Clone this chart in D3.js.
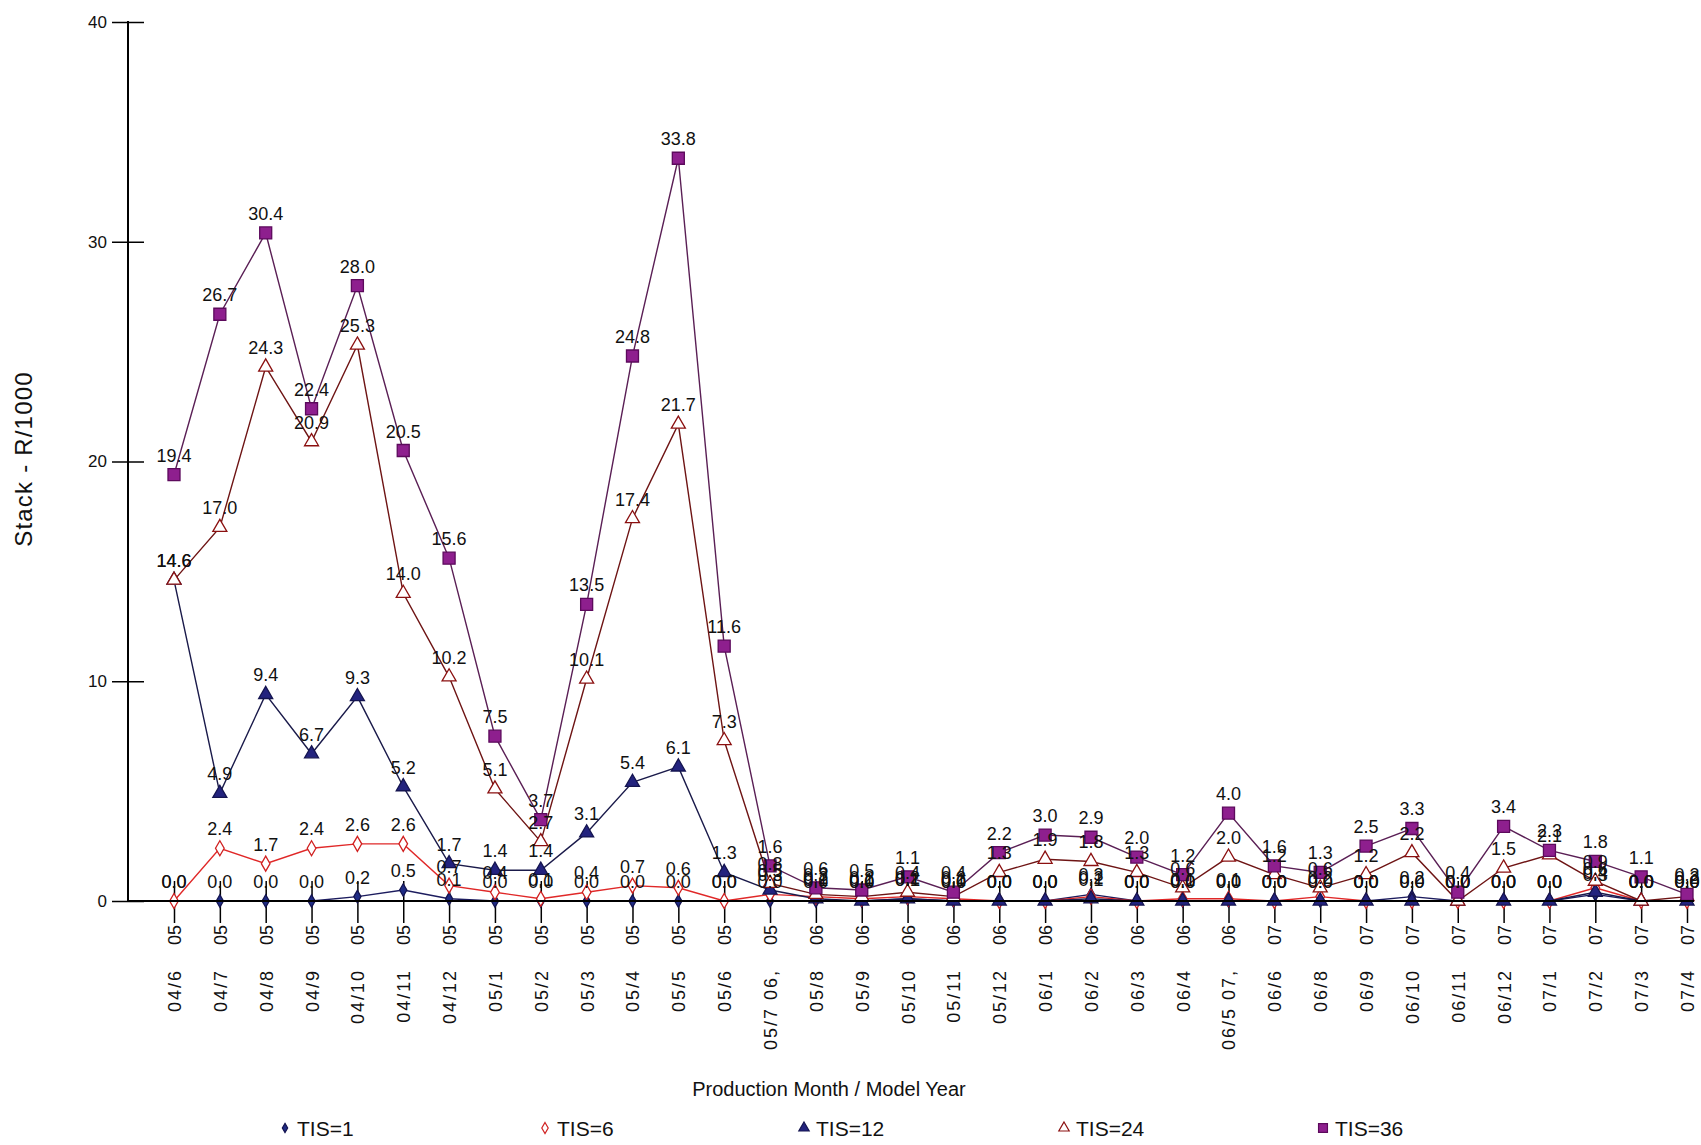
<!DOCTYPE html>
<html>
<head>
<meta charset="utf-8">
<script src="https://cdn.jsdelivr.net/npm/d3@7"></script>
<style>
  html, body { margin: 0; padding: 0; background: #fff; }
  svg { display: block; }
  text { font-family: "Liberation Sans", Arial, sans-serif; fill: #111; }
</style>
</head>
<body>
<svg id="chart" width="1701" height="1145"></svg>
<script>
// ---------------- data ----------------
const categories = ["04/6 05","04/7 05","04/8 05","04/9 05","04/10 05","04/11 05","04/12 05",
  "05/1 05","05/2 05","05/3 05","05/4 05","05/5 05","05/6 05","05/7 06, 05","05/8 06","05/9 06",
  "05/10 06","05/11 06","05/12 06","06/1 06","06/2 06","06/3 06","06/4 06","06/5 07, 06",
  "06/6 07","06/8 07","06/9 07","06/10 07","06/11 07","06/12 07","07/1 07","07/2 07","07/3 07","07/4 07"];

const tis1  = [0.0,0.0,0.0,0.0,0.2,0.5,0.1,0.0,0.0,0.0,0.0,0.0,0.0,0.0,0.0,0.0,0.1,0.0,0.0,0.0,0.3,0.0,0.0,0.0,0.0,0.0,0.0,0.2,0.0,0.0,0.0,0.3,0.0,0.0];
const tis6  = [0.0,2.4,1.7,2.4,2.6,2.6,0.7,0.4,0.1,0.4,0.7,0.6,0.0,0.3,0.2,0.1,0.2,0.1,0.0,0.0,0.2,0.0,0.1,0.1,0.0,0.2,0.0,0.0,0.0,0.0,0.0,0.6,0.0,0.0];
const tis12 = [14.6,4.9,9.4,6.7,9.3,5.2,1.7,1.4,1.4,3.1,5.4,6.1,1.3,0.5,0.1,0.0,0.1,0.0,0.0,0.0,0.1,0.0,0.0,0.0,0.0,0.0,0.0,0.0,0.0,0.0,0.0,0.4,0.0,0.0];
const tis24 = [14.6,17.0,24.3,20.9,25.3,14.0,10.2,5.1,2.7,10.1,17.4,21.7,7.3,0.8,0.3,0.2,0.4,0.2,1.3,1.9,1.8,1.3,0.6,2.0,1.2,0.6,1.2,2.2,0.0,1.5,2.1,0.9,0.0,0.2];
const tis36 = [19.4,26.7,30.4,22.4,28.0,20.5,15.6,7.5,3.7,13.5,24.8,33.8,11.6,1.6,0.6,0.5,1.1,0.4,2.2,3.0,2.9,2.0,1.2,4.0,1.6,1.3,2.5,3.3,0.4,3.4,2.3,1.8,1.1,0.3];

const seriesNames = ["TIS=1","TIS=6","TIS=12","TIS=24","TIS=36"];
const yTicks = [0, 10, 20, 30, 40];
const xTitle = "Production Month / Model Year";
const yTitle = "Stack - R/1000";

// ---------------- styles ----------------
const styles = {
  "TIS=1":  {values: tis1,  line: "#1c1c5e", fill: "#1f2c85", stroke: "#141450", sym: d3.symbolDiamond,  size: 45},
  "TIS=6":  {values: tis6,  line: "#e02828", fill: "#ffffff", stroke: "#d02020", sym: d3.symbolDiamond,  size: 65},
  "TIS=12": {values: tis12, line: "#1a1a4a", fill: "#23237e", stroke: "#141450", sym: d3.symbolTriangle, size: 85},
  "TIS=24": {values: tis24, line: "#6e1414", fill: "#ffffff", stroke: "#8b1010", sym: d3.symbolTriangle, size: 85},
  "TIS=36": {values: tis36, line: "#5a1f55", fill: "#8e1f8e", stroke: "#5c0a5c", sym: d3.symbolSquare,   size: 144}
};

const svg = d3.select("#chart");
svg.append("rect").attr("width", 1701).attr("height", 1145).attr("fill", "#fff");

const x = d3.scalePoint().domain(categories).range([174, 1687]);
const y = d3.scaleLinear().domain([0, 40]).range([901, 22]);

// ---------------- axes ----------------
const yAxis = svg.append("g").attr("transform", "translate(128,0)")
  .call(d3.axisLeft(y).tickValues(yTicks).tickSize(16).tickPadding(5));
yAxis.select(".domain").remove();
yAxis.selectAll(".tick line").attr("x1", 16).attr("x2", -16).attr("stroke", "#000").attr("stroke-width", 1.5);
yAxis.selectAll(".tick text").attr("x", -21).style("font-size", "17px").style("font-family", "Liberation Sans, Arial, sans-serif").attr("fill", "#111");

const xAxis = svg.append("g").attr("transform", "translate(0,901)")
  .call(d3.axisBottom(x).tickSize(22).tickFormat(""));
xAxis.select(".domain").remove();
xAxis.selectAll(".tick line").attr("y1", -20).attr("y2", 22).attr("stroke", "#000").attr("stroke-width", 1.5);
xAxis.selectAll(".tick text").remove();
xAxis.selectAll(".tick").each(function(d) {
  const g = d3.select(this);
  const i = d.lastIndexOf(" ");
  const first = d.slice(0, i), second = d.slice(i + 1);
  g.append("text").attr("transform", "translate(0,24) rotate(-90)")
    .attr("text-anchor", "end").attr("dy", "0.36em")
    .style("font-size", "18px").text(second);
  g.append("text").attr("transform", "translate(0,68) rotate(-90)")
    .attr("text-anchor", "end").attr("dy", "0.36em")
    .style("font-size", "18px").attr("letter-spacing", "2").text(first);
});

// axis lines
svg.append("line").attr("x1", 128).attr("x2", 128).attr("y1", 21).attr("y2", 902)
  .attr("stroke", "#000").attr("stroke-width", 2);

// ---------------- series ----------------
const lineGen = d3.line().x((d, i) => x(categories[i])).y(d => y(d));
const plot = svg.append("g");

seriesNames.forEach(name => {
  const s = styles[name];
  plot.append("path").datum(s.values)
    .attr("d", lineGen).attr("fill", "none")
    .attr("stroke", s.line).attr("stroke-width", 1.4);
});

svg.append("line").attr("x1", 127).attr("x2", 1694).attr("y1", 901).attr("y2", 901)
  .attr("stroke", "#000").attr("stroke-width", 2.2);

seriesNames.forEach(name => {
  const s = styles[name];
  plot.append("g").selectAll("path").data(s.values).join("path")
    .attr("transform", (d, i) => `translate(${x(categories[i])},${y(d)})`)
    .attr("d", d3.symbol().type(s.sym).size(s.size))
    .attr("fill", s.fill).attr("stroke", s.stroke).attr("stroke-width", 1.3);
});

// value labels
const labels = svg.append("g");
seriesNames.forEach(name => {
  const s = styles[name];
  labels.append("g").selectAll("text").data(s.values).join("text")
    .attr("x", (d, i) => x(categories[i]))
    .attr("y", d => y(d) - 13)
    .attr("text-anchor", "middle")
    .style("font-size", "18px")
    .text(d => d.toFixed(1));
});

// ---------------- titles ----------------
svg.append("text").attr("x", 829).attr("y", 1096).attr("text-anchor", "middle")
  .style("font-size", "20px").text(xTitle);
svg.append("text").attr("transform", "translate(32,459) rotate(-90)")
  .attr("text-anchor", "middle").style("font-size", "24px").attr("letter-spacing", "1.2").text(yTitle);

// ---------------- legend ----------------
const legendX = [285, 545, 804, 1064, 1323];
const legend = svg.append("g");
seriesNames.forEach((name, i) => {
  const s = styles[name];
  const g = legend.append("g").attr("transform", `translate(${legendX[i]},1128)`);
  g.append("path").attr("d", d3.symbol().type(s.sym).size(s.size * 0.55))
    .attr("fill", s.fill).attr("stroke", s.stroke).attr("stroke-width", 1.2);
  g.append("text").attr("x", 12).attr("dy", "0.36em").style("font-size", "21px").text(name);
});
</script>
</body>
</html>
